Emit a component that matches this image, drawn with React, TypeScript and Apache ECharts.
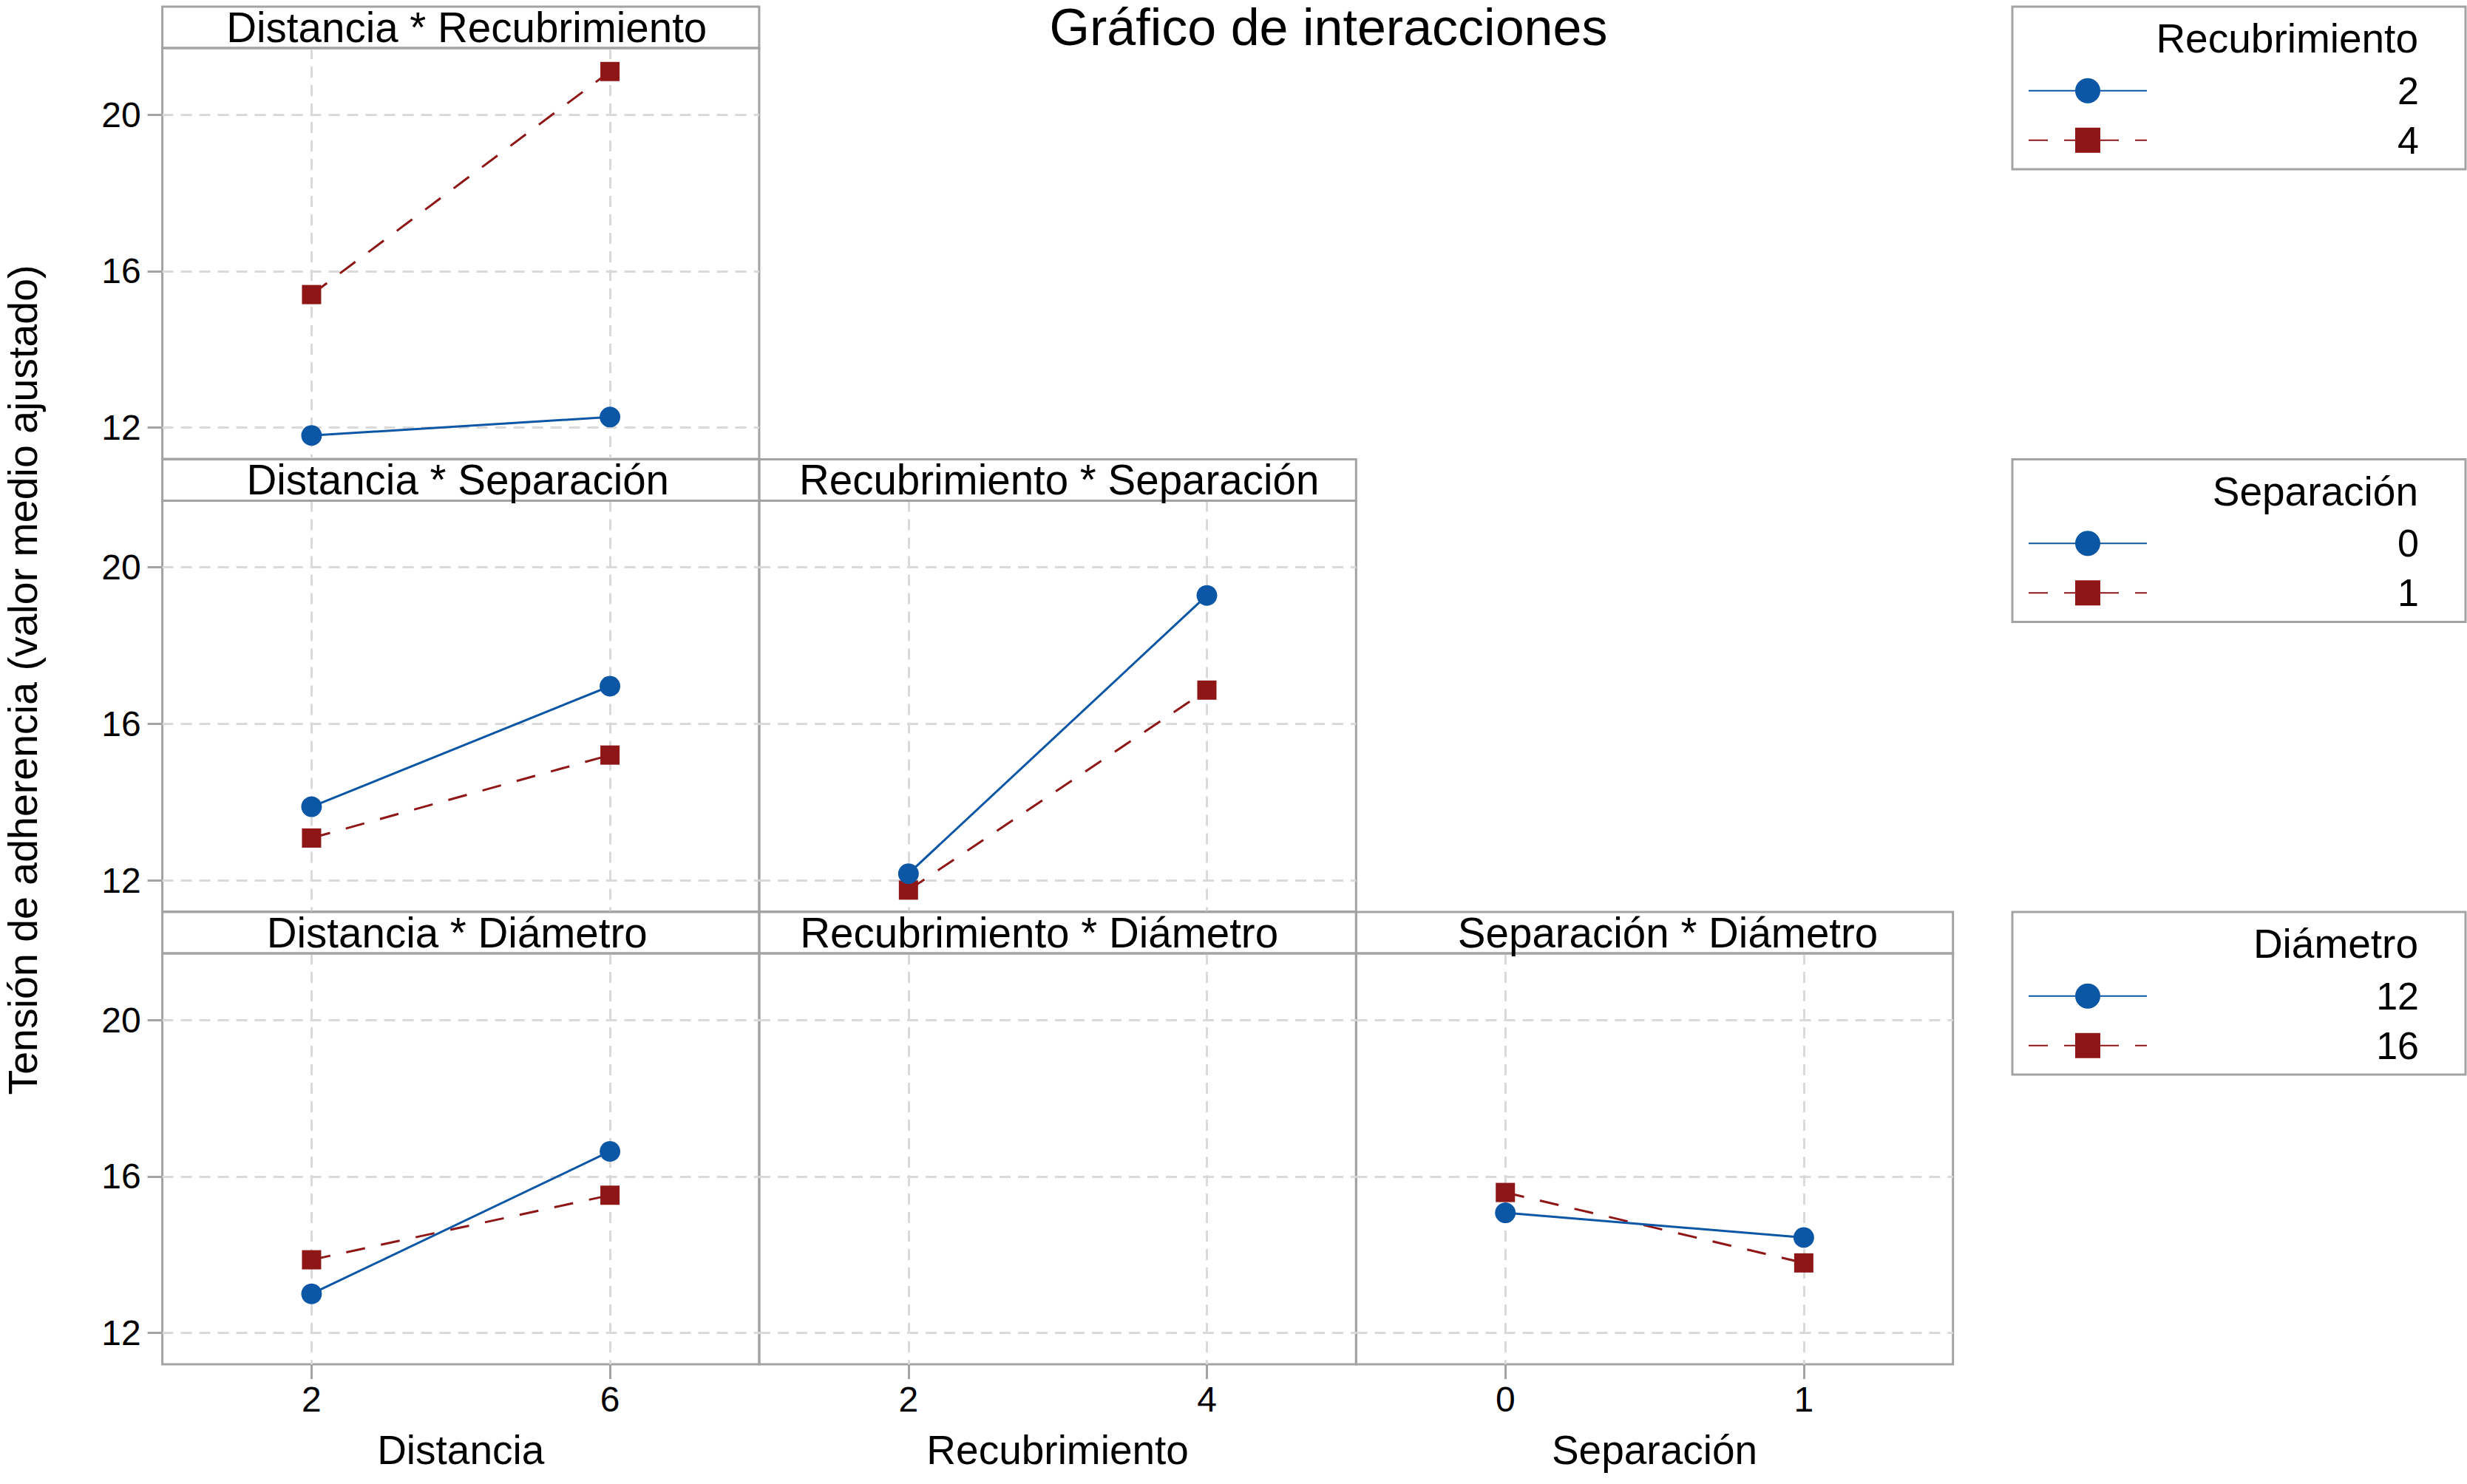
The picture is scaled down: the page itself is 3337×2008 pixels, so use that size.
import React, { useEffect, useRef } from 'react';
import * as echarts from 'echarts';

// ---------- data ----------
const distanciaLevels = [2, 6];
const recubrimientoLevels = [2, 4];
const separacionLevels = [0, 1];
const yTickValues = [12, 16, 20];

// Distancia * Recubrimiento (series: Recubrimiento 2 / 4)
const distRecub_R2 = [11.8, 12.27];
const distRecub_R4 = [15.4, 21.1];
// Distancia * Separación (series: Separación 0 / 1)
const distSep_S0 = [13.88, 16.96];
const distSep_S1 = [13.08, 15.2];
// Recubrimiento * Separación (series: Separación 0 / 1)
const recubSep_S0 = [12.17, 19.28];
const recubSep_S1 = [11.75, 16.86];
// Distancia * Diámetro (series: Diámetro 12 / 16)
const distDiam_D12 = [13.0, 16.64];
const distDiam_D16 = [13.87, 15.52];
// Separación * Diámetro (series: Diámetro 12 / 16)
const sepDiam_D12 = [15.07, 14.44];
const sepDiam_D16 = [15.59, 13.79];

const legendGroups = [
  { title: 'Recubrimiento', names: ['2', '4'] },
  { title: 'Separación', names: ['0', '1'] },
  { title: 'Diámetro', names: ['12', '16'] },
];

// ---------- styling / layout ----------
const FONT = '"Liberation Sans", Arial, Helvetica, sans-serif';
const BLUE = '#0b56a5';
const RED = '#8e1616';
const BORDER = '#a3a3a3';
const GRIDC = '#dadada';
const COL_L = [219.6, 1027, 1834.4];
const COL_W = 807.3;
const ROW_T = [9, 621.5, 1234];
const HEADER_H = 56;
const PLOT_H = 556;

type XKind = 'dist' | 'recub' | 'sep';
const xSpec: Record<XKind, { min: number; max: number; ticks: number[]; name: string }> = {
  dist: { min: 0, max: 8, ticks: distanciaLevels, name: 'Distancia' },
  recub: { min: 1, max: 5, ticks: recubrimientoLevels, name: 'Recubrimiento' },
  sep: { min: -0.5, max: 1.5, ticks: separacionLevels, name: 'Separación' },
};

const panels: {
  title: string;
  titleDx: number;
  row: number;
  col: number;
  x: XKind;
  lines: { name: string; values: number[]; kind: 'blue' | 'red' }[];
}[] = [
  {
    title: 'Distancia * Recubrimiento', titleDx: 8, row: 0, col: 0, x: 'dist',
    lines: [
      { name: '2', values: distRecub_R2, kind: 'blue' },
      { name: '4', values: distRecub_R4, kind: 'red' },
    ],
  },
  {
    title: 'Distancia * Separación', titleDx: -4, row: 1, col: 0, x: 'dist',
    lines: [
      { name: '0', values: distSep_S0, kind: 'blue' },
      { name: '1', values: distSep_S1, kind: 'red' },
    ],
  },
  {
    title: 'Recubrimiento * Separación', titleDx: 2, row: 1, col: 1, x: 'recub',
    lines: [
      { name: '0', values: recubSep_S0, kind: 'blue' },
      { name: '1', values: recubSep_S1, kind: 'red' },
    ],
  },
  {
    title: 'Distancia * Diámetro', titleDx: -5, row: 2, col: 0, x: 'dist',
    lines: [
      { name: '12', values: distDiam_D12, kind: 'blue' },
      { name: '16', values: distDiam_D16, kind: 'red' },
    ],
  },
  { title: 'Recubrimiento * Diámetro', titleDx: -25, row: 2, col: 1, x: 'recub', lines: [] },
  {
    title: 'Separación * Diámetro', titleDx: 18, row: 2, col: 2, x: 'sep',
    lines: [
      { name: '12', values: sepDiam_D12, kind: 'blue' },
      { name: '16', values: sepDiam_D16, kind: 'red' },
    ],
  },
];

function buildOption() {
  const grid: any[] = [];
  const xAxis: any[] = [];
  const yAxis: any[] = [];
  const series: any[] = [];
  const graphic: any[] = [];

  panels.forEach((p, i) => {
    const left = COL_L[p.col];
    const top = ROW_T[p.row] + HEADER_H;
    grid.push({
      left, top, width: COL_W, height: PLOT_H,
      show: true, borderColor: BORDER, borderWidth: 3, backgroundColor: 'transparent',
    });
    const xs = xSpec[p.x];
    const bottomRow = p.row === 2;
    xAxis.push({
      type: 'value', gridIndex: i, min: xs.min, max: xs.max,
      axisLine: { show: false },
      axisTick: {
        show: bottomRow, customValues: xs.ticks, length: 20,
        lineStyle: { color: BORDER, width: 3 },
      },
      axisLabel: {
        show: bottomRow, customValues: xs.ticks, margin: 23,
        fontSize: 48, fontFamily: FONT, color: '#000',
      },
      splitLine: { show: true, lineStyle: { color: GRIDC, width: 3, type: [15, 10] } },
      name: bottomRow ? xs.name : '',
      nameLocation: 'middle', nameGap: 88,
      nameTextStyle: { fontSize: 55, fontFamily: FONT, color: '#000' },
    });
    const leftCol = p.col === 0;
    yAxis.push({
      type: 'value', gridIndex: i, min: 11.2, max: 21.7,
      axisLine: { show: false },
      axisTick: {
        show: leftCol, customValues: yTickValues, length: 20,
        lineStyle: { color: BORDER, width: 3 },
      },
      axisLabel: {
        show: leftCol, customValues: yTickValues, margin: 29,
        fontSize: 48, fontFamily: FONT, color: '#000',
      },
      splitLine: { show: true, lineStyle: { color: GRIDC, width: 3, type: [15, 10] } },
    });
    p.lines.forEach((ln) => {
      const isBlue = ln.kind === 'blue';
      const color = isBlue ? BLUE : RED;
      series.push({
        type: 'line', name: ln.name, xAxisIndex: i, yAxisIndex: i,
        data: xs.ticks.map((xv, k) => [xv, ln.values[k]]),
        symbol: isBlue ? 'circle' : 'rect',
        symbolSize: isBlue ? 28 : 26,
        lineStyle: { color, width: 3, type: isBlue ? 'solid' : [26, 22] },
        itemStyle: { color },
        z: isBlue ? 3 : 2,
      });
    });
    // header strip
    graphic.push({
      type: 'rect', z: 10,
      shape: { x: left, y: ROW_T[p.row], width: COL_W, height: HEADER_H },
      style: { fill: 'none', stroke: BORDER, lineWidth: 3 },
    });
    graphic.push({
      type: 'text', z: 11, x: left + COL_W / 2 + p.titleDx, y: ROW_T[p.row] + HEADER_H / 2,
      style: {
        text: p.title, fontSize: 56.5, fontFamily: FONT, fill: '#000',
        align: 'center', verticalAlign: 'middle',
      },
    });
  });

  // legends
  const LEG_BOX_L = 2722;
  const LEG_BOX_W = 613;
  const LEG_BOX_H = 220;
  const legend: any[] = legendGroups.map((g, gi) => {
    const boxTop = ROW_T[gi];
    graphic.push({
      type: 'rect', z: 10,
      shape: { x: LEG_BOX_L, y: boxTop, width: LEG_BOX_W, height: LEG_BOX_H },
      style: { fill: 'none', stroke: BORDER, lineWidth: 3 },
    });
    graphic.push({
      type: 'text', z: 11, x: 3271, y: boxTop + 43,
      style: {
        text: g.title, fontSize: 55, fontFamily: FONT, fill: '#000',
        align: 'right', verticalAlign: 'middle',
      },
    });
    return {
      orient: 'vertical', left: 2743, top: boxTop + 114 - 21.25 - 5, padding: 0,
      itemWidth: 160, itemHeight: 42.5, itemGap: 15, selectedMode: false,
      data: g.names,
      formatter: '{a|{name}}',
      textStyle: {
        rich: { a: { width: 363, align: 'right', fontSize: 52, lineHeight: 40, fontFamily: FONT, color: '#000' } },
      },
    };
  });

  // title and y-axis title
  graphic.push({
    type: 'text', z: 11, x: 1797, y: 37,
    style: {
      text: 'Gráfico de interacciones', fontSize: 70, fontFamily: FONT, fill: '#000',
      align: 'center', verticalAlign: 'middle',
    },
  });
  graphic.push({
    type: 'text', z: 11, x: 31, y: 920, rotation: Math.PI / 2,
    style: {
      text: 'Tensión de adherencia (valor medio ajustado)', fontSize: 55.5, fontFamily: FONT, fill: '#000',
      align: 'center', verticalAlign: 'middle',
    },
  });

  return {
    animation: false,
    backgroundColor: '#fff',
    textStyle: { fontFamily: FONT },
    grid, xAxis, yAxis, series, legend, graphic,
  };
}

export default function App() {
  const ref = useRef<HTMLDivElement>(null);
  useEffect(() => {
    const chart = echarts.init(ref.current as HTMLDivElement, null, { renderer: 'svg' });
    chart.setOption(buildOption() as any);
    return () => chart.dispose();
  }, []);
  return (
    <div
      ref={ref}
      style={{ position: 'fixed', left: 0, top: 0, width: 3337, height: 2008, background: '#fff' }}
    />
  );
}
